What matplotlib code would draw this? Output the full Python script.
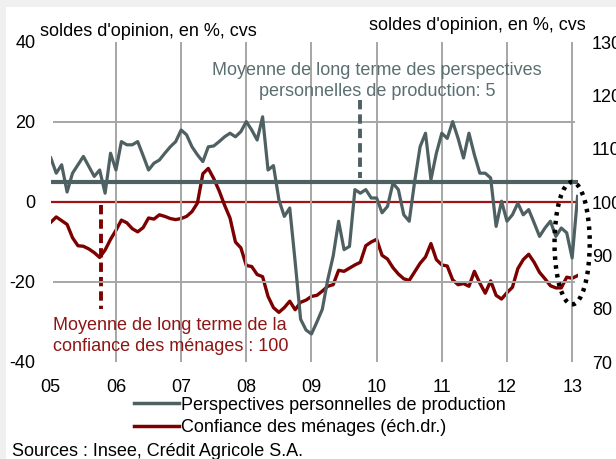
import numpy as np
import matplotlib
matplotlib.use("Agg")
import matplotlib.pyplot as plt
from matplotlib.lines import Line2D
from matplotlib.patches import Ellipse, Rectangle

plt.rcParams['font.family'] = ['Liberation Sans', 'DejaVu Sans']
plt.rcParams['axes.unicode_minus'] = False

# --- Data: monthly, Jan 2005 -> Feb 2013 ---
n_months = 98
dates = 2005 + np.arange(n_months) / 12.0

# Perspectives personnelles de production (left axis, solde %)
persp = [11.0, 7.2, 9.3, 2.5, 7.2, 9.3, 11.4, 8.9, 6.4, 8.0,
         2.2, 12.2, 8.0, 15.1, 14.3, 14.3, 15.1, 11.6, 8.0, 9.7,
         10.5, 12.2, 13.8, 15.1, 18.0, 16.8, 13.8, 11.8, 10.1, 13.8,
         14.0, 15.1, 16.3, 17.2, 16.3, 17.6, 20.1, 18.0, 15.5, 21.3,
         8.0, 9.1, 0.6, -3.6, -1.5, -15.0, -29.3, -32.0, -33.0, -30.0,
         -26.8, -19.4, -13.5, -4.8, -11.9, -11.1, 3.1, 2.2, 3.1, 1.0,
         1.0, -2.7, -1.1, 4.7, 3.1, -3.2, -4.8, 5.1, 13.8, 17.2,
         5.6, 12.2, 17.2, 15.9, 20.1, 15.9, 11.0, 17.2, 11.8, 7.2,
         7.2, 6.0, -6.1, 0.2, -4.8, -3.2, -0.3, -3.2, -1.9, -5.2,
         -8.6, -6.5, -4.8, -8.6, -6.5, -7.7, -14.0, 1.4]

# Confiance des ménages (right axis)
confiance = [96.2, 97.2, 96.5, 95.8, 93.3, 91.8, 91.7, 91.2, 90.5, 89.6,
             91.0, 93.0, 94.7, 96.6, 96.1, 95.0, 94.4, 95.2, 97.0, 96.8,
             97.6, 97.3, 96.9, 96.7, 96.9, 97.3, 98.2, 99.8, 105.3, 106.3,
             104.4, 102.1, 99.4, 97.0, 92.5, 91.4, 88.1, 87.9, 86.4, 86.0,
             82.3, 80.2, 79.3, 80.2, 81.4, 79.8, 81.2, 81.6, 82.3, 82.5,
             83.3, 84.2, 84.5, 87.2, 87.0, 87.6, 88.2, 88.7, 91.8, 92.5,
             93.0, 90.0, 89.3, 87.7, 86.5, 85.6, 85.3, 86.9, 88.5, 89.7,
             92.2, 89.2, 88.2, 88.0, 85.4, 84.5, 84.7, 84.2, 87.0, 84.8,
             82.9, 85.2, 82.5, 81.8, 83.0, 84.0, 87.5, 89.2, 90.2, 88.7,
             86.8, 85.6, 84.3, 83.9, 83.9, 85.9, 85.7, 86.2]

mean_persp = 5
mean_conf = 100

year_ticks = np.arange(2005, 2014)
year_labels = ["05", "06", "07", "08", "09", "10", "11", "12", "13"]

GRAY = "#4f6062"
GRAY_TXT = "#5b6e70"
RED = "#7d0000"
RED_MEAN = "#9e1414"
RED_TXT = "#8e1515"
GRID = "#a6a6a6"
FS = 13

fig = plt.figure(figsize=(6.16, 4.59), dpi=100)
fig.patch.set_facecolor("#f0f0f0")
fig.patches.append(Rectangle((6 / 616, 0), 1, 1 - 7 / 459, transform=fig.transFigure,
                             facecolor="white", edgecolor="none", zorder=-10))

ax = fig.add_axes([50.8 / 616, 1 - 362 / 459, (578 - 50.8) / 616, 320 / 459])
ax2 = ax.twinx()
ax.set_zorder(ax2.get_zorder() + 1)
ax.patch.set_visible(False)

ax.set_xlim(2005, 2013.09)
ax.set_ylim(-40, 40)
ax2.set_ylim(70, 130)

# grid
ax.vlines(year_ticks[1:], -40, 40, color=GRID, lw=1.4, zorder=0)
ax.hlines([-20, 20], 2005.04, 2013.04, color=GRID, lw=1.4, zorder=0)

# right axis series
ax2.axhline(mean_conf, color=RED_MEAN, lw=1.6, zorder=2)
ax2.plot(dates, confiance, color=RED, lw=2.4, zorder=3)
ax2.plot([2005.77, 2005.77], [99.5, 79.9], color=RED, lw=2.8,
         dashes=(2.4, 1.3), zorder=3)

# left axis series
ax.axhline(mean_persp, color=GRAY, lw=3.0, zorder=2)
ax.plot(dates, persp, color=GRAY, lw=2.3, zorder=3)
ax.plot([2009.743, 2009.743], [25.5, 6.0], color=GRAY, lw=2.8,
        dashes=(2.4, 1.3), zorder=3)

ax.add_patch(Ellipse((2013.0, -10.3), 0.54, 30.6, fill=False, edgecolor="black",
                     lw=3.2, linestyle=(0, (0.8, 1.2)), clip_on=False, zorder=5))

# ticks
ax.set_xticks(year_ticks)
ax.set_xticklabels(year_labels)
ax.set_yticks([-40, -20, 0, 20, 40])
ax2.set_yticks([70, 80, 90, 100, 110, 120, 130])
ax.tick_params(axis="x", length=0, pad=12, labelsize=FS)
ax.tick_params(axis="y", length=0, pad=11, labelsize=FS)
ax2.tick_params(axis="y", length=0, pad=10, labelsize=FS)
for a in (ax, ax2):
    for s in a.spines.values():
        s.set_visible(False)

# texts
fig.text(40 / 616, 1 - 31 / 459, "soldes d'opinion, en %, cvs", fontsize=FS,
         va="center", ha="left")
fig.text(586 / 616, 1 - 25 / 459, "soldes d'opinion, en %, cvs", fontsize=FS,
         va="center", ha="right")
fig.text(377 / 616, 1 - 81 / 459,
         "Moyenne de long terme des perspectives\npersonnelles de production: 5",
         fontsize=FS, color=GRAY_TXT, ha="center", va="center",
         multialignment="center", linespacing=1.32)
fig.text(53 / 616, 1 - 336 / 459,
         "Moyenne de long terme de la\nconfiance des ménages : 100",
         fontsize=FS, color=RED_TXT, ha="left", va="center", linespacing=1.28)

handles = [Line2D([], [], color=GRAY, lw=2.5), Line2D([], [], color=RED, lw=2.5)]
labels = ["Perspectives personnelles de production",
          "Confiance des ménages (éch.dr.)"]
fig.legend(handles, labels, loc="center left",
           bbox_to_anchor=(134 / 616, 1 - 416.5 / 459), frameon=False,
           fontsize=FS, handlelength=2.5, handletextpad=0.1,
           labelspacing=0.3, borderpad=0, borderaxespad=0)

fig.text(12 / 616, 1 - 451 / 459, "Sources : Insee, Crédit Agricole S.A.",
         fontsize=FS, ha="left", va="center")

fig.savefig("out.png", dpi=100)
